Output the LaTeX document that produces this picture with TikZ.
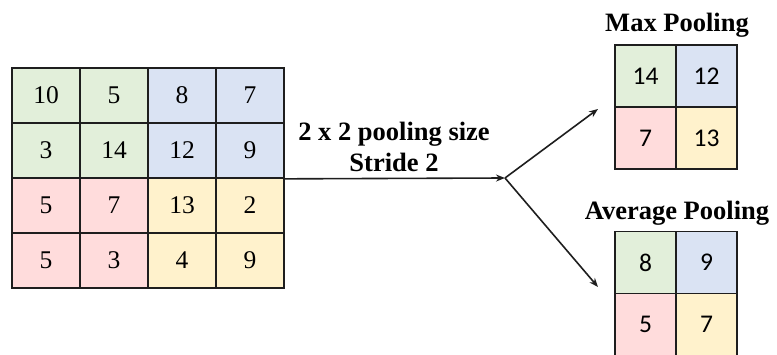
\documentclass[tikz,border=0pt]{standalone}
\usepackage{fontspec}
\setmainfont{Liberation Serif}
\newfontfamily\cellsans{Carlito}
\usetikzlibrary{arrows.meta}
\definecolor{cgreen}{HTML}{E2EFDA}
\definecolor{cblue}{HTML}{DAE3F3}
\definecolor{cpink}{HTML}{FFDCDC}
\definecolor{cyellow}{HTML}{FFF2CC}
\definecolor{edge}{HTML}{1E1E1E}
\begin{document}
\begin{tikzpicture}[x=1pt,y=-1pt,
  bigcell/.style={draw=edge,line width=1.7pt,minimum width=68pt,minimum height=55pt,
    inner sep=0pt,font=\fontsize{25.5}{25.5}\selectfont},
  smallcell/.style={draw=edge,line width=1.7pt,minimum width=61pt,minimum height=62pt,
    inner sep=0pt,font=\cellsans\fontsize{25.5}{25.5}\selectfont},
  title/.style={font=\bfseries\fontsize{26.5}{31}\selectfont,align=center,inner sep=0pt},
  flow/.style={line width=1.6pt,draw=edge,-{Stealth[length=9pt,width=7pt]}}]
\useasboundingbox (0,0) rectangle (777,355);
\begin{scope}
\clip (0,0) rectangle (777,355);
% 4x4 input feature map
\foreach \r/\vals in {1/{10,5,8,7},2/{3,14,12,9},3/{5,7,13,2},4/{5,3,4,9}}{
  \foreach \v [count=\c] in \vals {
    \pgfmathsetmacro{\q}{int((\r>2)*2+(\c>2))}
    \ifcase\q \def\fc{cgreen}\or\def\fc{cblue}\or\def\fc{cpink}\else\def\fc{cyellow}\fi
    \node[bigcell,fill=\fc] (L-\r-\c) at ({12+68*(\c-0.5)},{68+55*(\r-0.5)}) {\v};
  }
}
% max pooling output
\node[smallcell,fill=cgreen]  (M-1-1) at (645.5,76)  {14};
\node[smallcell,fill=cblue]   (M-1-2) at (706.5,76)  {12};
\node[smallcell,fill=cpink]   (M-2-1) at (645.5,138) {7};
\node[smallcell,fill=cyellow] (M-2-2) at (706.5,138) {13};
% average pooling output
\node[smallcell,fill=cgreen]  (A-1-1) at (645.5,262.5) {8};
\node[smallcell,fill=cblue]   (A-1-2) at (706.5,262.5) {9};
\node[smallcell,fill=cpink]   (A-2-1) at (645.5,324.5) {5};
\node[smallcell,fill=cyellow] (A-2-2) at (706.5,324.5) {7};
\end{scope}
% titles
\node[title] (maxt) at (677,25) {Max Pooling};
\node[title] (avgt) at (677,213) {Average Pooling};
\node[title] (lbl) at (394,147) {2 x 2 pooling size\\Stride 2};
% connectors
\coordinate (split) at (505,178);
\coordinate (tomax) at (598,109);
\coordinate (toavg) at (598,287);
\draw[flow] (L-2-4.south east) -- (split);
\draw[flow] (split) -- (tomax);
\draw[flow] (split) -- (toavg);
\end{tikzpicture}
\end{document}
